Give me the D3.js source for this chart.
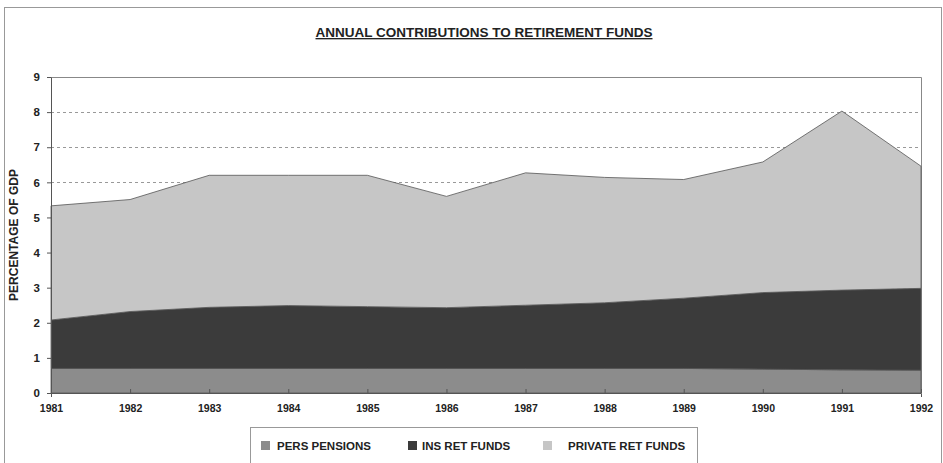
<!DOCTYPE html>
<html lang="en">
<head>
  <meta charset="UTF-8">
  <title>Annual contributions to retirement funds</title>
  <script src="https://d3js.org/d3.v7.min.js"></script>
  <style>
    body { margin: 0; background: #fff; font-family: "Liberation Sans", Arial, sans-serif; }
    .tick text { font-size: 10.5px; font-weight: bold; fill: #222; }
    .legend-label { font-size: 11.5px; font-weight: bold; fill: #222; }
  </style>
</head>
<body>
  <div id="chart"></div>
  <script>
    // data (percentage of GDP)
    const years = [1981, 1982, 1983, 1984, 1985, 1986, 1987, 1988, 1989, 1990, 1991, 1992];
    const persPensions = [0.7, 0.7, 0.7, 0.7, 0.7, 0.7, 0.7, 0.7, 0.7, 0.68, 0.66, 0.65];
    const insRetFunds = [1.38, 1.62, 1.74, 1.79, 1.76, 1.73, 1.8, 1.87, 2.0, 2.18, 2.27, 2.33];
    const privateRetFunds = [3.25, 3.19, 3.76, 3.71, 3.74, 3.17, 3.77, 3.57, 3.38, 3.72, 5.1, 3.48];
    const yTicks = [0, 1, 2, 3, 4, 5, 6, 7, 8, 9];
    const seriesNames = ["PERS PENSIONS", "INS RET FUNDS", "PRIVATE RET FUNDS"];
    const seriesColors = ["#8c8c8c", "#3b3b3b", "#c6c6c6"];

    const W = 943, H = 463;
    const margin = { top: 77, right: 22, bottom: 70, left: 51 };
    const width = W - margin.left - margin.right;
    const height = H - margin.top - margin.bottom;

    const svg = d3.select("#chart").append("svg")
      .attr("width", W)
      .attr("height", H);

    // outer frame
    svg.append("rect")
      .attr("x", 4.5).attr("y", 7.5)
      .attr("width", W - 6).attr("height", H)
      .attr("fill", "none").attr("stroke", "#999");

    // title
    svg.append("text")
      .attr("x", 484).attr("y", 37)
      .attr("text-anchor", "middle")
      .style("font-size", "13.5px").style("font-weight", "bold")
      .style("text-decoration", "underline")
      .attr("fill", "#222")
      .text("ANNUAL CONTRIBUTIONS TO RETIREMENT FUNDS");

    const g = svg.append("g")
      .attr("transform", "translate(" + margin.left + "," + margin.top + ")");

    const x = d3.scaleLinear()
      .domain([years[0], years[years.length - 1]])
      .range([0, width]);

    const y = d3.scaleLinear()
      .domain([0, 9])
      .range([height, 0]);

    const rows = years.map((yr, i) => ({
      year: yr,
      pers: persPensions[i],
      ins: insRetFunds[i],
      priv: privateRetFunds[i]
    }));
    const stack = d3.stack().keys(["pers", "ins", "priv"])(rows);

    // dashed gridlines
    g.selectAll(".grid")
      .data(yTicks.filter(d => d > 0 && d < 9))
      .enter().append("line")
      .attr("x1", 0).attr("x2", width)
      .attr("y1", d => Math.round(y(d)) + 0.5)
      .attr("y2", d => Math.round(y(d)) + 0.5)
      .attr("stroke", "#999")
      .attr("stroke-dasharray", "3,3");

    // plot frame (top and right)
    g.append("path")
      .attr("d", "M0.5,0.5H" + (width + 0.5) + "V" + height)
      .attr("fill", "none").attr("stroke", "#888");

    const area = d3.area()
      .x(d => x(d.data.year))
      .y0(d => y(d[0]))
      .y1(d => y(d[1]));

    g.selectAll(".layer")
      .data(stack)
      .enter().append("path")
      .attr("class", "layer")
      .attr("d", area)
      .attr("fill", (d, i) => seriesColors[i])
      .attr("stroke", "#555")
      .attr("stroke-width", 0.8);

    // axes
    const xAxis = g.append("g")
      .attr("transform", "translate(0," + height + ")")
      .call(d3.axisBottom(x).tickValues(years).tickFormat(d3.format("d")).tickSize(4).tickPadding(8));
    xAxis.select(".domain").attr("stroke", "#555");
    xAxis.selectAll(".tick line").attr("stroke", "#555").attr("transform", "translate(0,-4)");

    const yAxis = g.append("g")
      .call(d3.axisLeft(y).tickValues(yTicks).tickSize(4).tickPadding(7));
    yAxis.select(".domain").attr("stroke", "#555");
    yAxis.selectAll(".tick line").attr("stroke", "#555");
    yAxis.selectAll(".tick text").style("font-size", "11.5px");

    // y axis title
    svg.append("text")
      .attr("transform", "translate(18," + (margin.top + height / 2) + ") rotate(-90)")
      .attr("text-anchor", "middle")
      .style("font-size", "12px").style("font-weight", "bold")
      .attr("fill", "#222")
      .text("PERCENTAGE OF GDP");

    // legend
    svg.append("rect")
      .attr("x", 250.5).attr("y", 427.5)
      .attr("width", 447).attr("height", 50)
      .attr("fill", "#fff").attr("stroke", "#999");

    const legendX = [261, 408, 543];
    const legendGap = [16, 14, 25];
    const legend = svg.selectAll(".legend")
      .data(seriesNames)
      .enter().append("g")
      .attr("transform", (d, i) => "translate(" + legendX[i] + ",441)");
    legend.append("rect")
      .attr("width", 9).attr("height", 9)
      .attr("fill", (d, i) => seriesColors[i]);
    legend.append("text")
      .attr("class", "legend-label")
      .attr("x", (d, i) => legendGap[i]).attr("y", 9)
      .text(d => d);
  </script>
</body>
</html>
